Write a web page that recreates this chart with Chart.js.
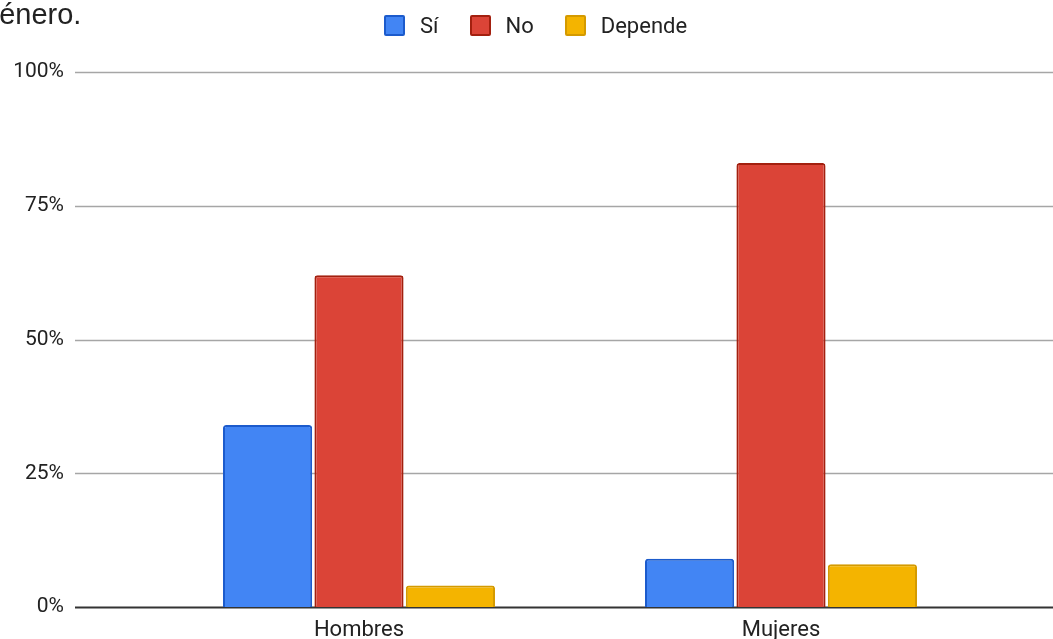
<!DOCTYPE html>
<html>
<head>
<meta charset="utf-8">
<script src="https://cdn.jsdelivr.net/npm/chart.js@4.4.1/dist/chart.umd.min.js"></script>
<style>
    body { margin: 0; background: #fff; }
    #wrap { position: relative; width: 1053px; height: 639px; overflow: hidden; }
    #title {
        position: absolute; left: -17px; top: -2px;
        font-family: 'Liberation Sans', Arial, sans-serif; font-size: 29px; color: #222;
        white-space: nowrap;
    }
    #legend {
        position: absolute; left: 384px; top: 13px;
        display: flex; align-items: center;
        font-family: Roboto, sans-serif; font-size: 22px; color: #222;
    }
    .item { display: flex; align-items: center; margin-right: 31px; }
    .box { width: 17px; height: 17px; border-width: 2px; border-style: solid; border-radius: 2px; margin-right: 15px; }
    #generoChart { position: absolute; left: 0; top: 0; }
</style>
</head>
<body>
<div id="wrap">
    <canvas id="generoChart" width="1053" height="639"></canvas>
    <div id="title">género.</div>
    <div id="legend"></div>
</div>
<script>
// Respuestas por género (%)
const categorias = ['Hombres', 'Mujeres'];
const seriesNombres = ['Sí', 'No', 'Depende'];
const valoresSi = [34, 9];
const valoresNo = [62, 83];
const valoresDepende = [4, 8];
const ticksY = [0, 25, 50, 75, 100];

const rellenos = ['#4285f4', '#db4437', '#f4b400'];
const bordes = ['#1c5bcc', '#a3200f', '#d49a00'];

// horizontal grid lines span the whole width, past the bar area
const lineasFondo = {
    id: 'lineasFondo',
    beforeDatasetsDraw(chart) {
        const ctx = chart.ctx;
        const y = chart.scales.y;
        ctx.save();
        ticksY.forEach(v => {
            const py = Math.round(y.getPixelForValue(v)) + 0.5;
            ctx.beginPath();
            ctx.strokeStyle = v === 0 ? '#333' : '#a6a6a6';
            ctx.lineWidth = v === 0 ? 2 : 1.5;
            ctx.moveTo(75, py);
            ctx.lineTo(chart.width, py);
            ctx.stroke();
        });
        ctx.restore();
    }
};

const datos = [valoresSi, valoresNo, valoresDepende];

const chart = new Chart(document.getElementById('generoChart').getContext('2d'), {
    type: 'bar',
    data: {
        labels: categorias,
        datasets: seriesNombres.map((nombre, i) => ({
            label: nombre,
            data: datos[i],
            backgroundColor: rellenos[i],
            borderColor: bordes[i],
            borderWidth: 2,
            borderRadius: 3,
            categoryPercentage: 0.65,
            barPercentage: 0.975
        }))
    },
    options: {
        responsive: false,
        animation: false,
        layout: { padding: { top: 72, right: 61, left: 0, bottom: 0 } },
        plugins: {
            legend: { display: false },
            tooltip: { enabled: false }
        },
        scales: {
            y: {
                min: 0,
                max: 100,
                // wide axis with labels pushed left; keep vertical padding small
                afterFit(axis) {
                    axis.width = 148;
                    axis.paddingTop = 12;
                    axis.paddingBottom = 12;
                },
                afterBuildTicks(axis) { axis.ticks = ticksY.map(v => ({ value: v })); },
                ticks: {
                    padding: 84,
                    color: '#222',
                    font: { family: 'Roboto', size: 21 },
                    callback: v => v + '%'
                },
                grid: { display: false, drawTicks: false },
                border: { display: false }
            },
            x: {
                afterFit(axis) { axis.height = 32; },
                ticks: {
                    padding: 10,
                    color: '#222',
                    font: { family: 'Roboto', size: 22 }
                },
                grid: { display: false, drawTicks: false },
                border: { display: false }
            }
        }
    },
    plugins: [lineasFondo]
});

// legend built from the datasets
const leyenda = document.getElementById('legend');
chart.data.datasets.forEach(ds => {
    const item = document.createElement('div');
    item.className = 'item';
    const box = document.createElement('div');
    box.className = 'box';
    box.style.background = ds.backgroundColor;
    box.style.borderColor = ds.borderColor;
    const txt = document.createElement('span');
    txt.textContent = ds.label;
    item.appendChild(box);
    item.appendChild(txt);
    leyenda.appendChild(item);
});
</script>
</body>
</html>
